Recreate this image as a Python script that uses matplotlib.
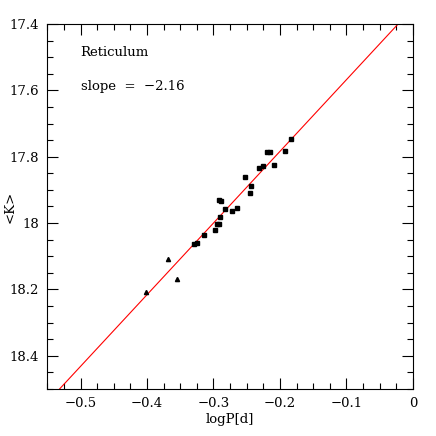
import numpy as np
import matplotlib.pyplot as plt
from matplotlib.ticker import MultipleLocator

# data
logp_sq = [-0.329, -0.325, -0.315, -0.297, -0.294, -0.291, -0.290, -0.292, -0.289,
           -0.282, -0.272, -0.264, -0.252, -0.245, -0.243, -0.232, -0.226, -0.220,
           -0.215, -0.209, -0.192, -0.183]
k_sq = [18.062, 18.059, 18.035, 18.020, 18.002, 18.002, 17.983, 17.930, 17.934,
        17.958, 17.963, 17.954, 17.862, 17.910, 17.887, 17.835, 17.827, 17.786,
        17.785, 17.824, 17.783, 17.746]
logp_tri = [-0.402, -0.368, -0.3545]
k_tri = [18.209, 18.107, 18.169]

slope = -2.16
zp = 17.352

plt.rcParams['font.family'] = 'DejaVu Serif'
plt.rcParams['font.size'] = 9.5

fig = plt.figure(figsize=(4.36, 4.36), dpi=100)
ax = fig.add_axes([0.1085, 0.108, 0.8385, 0.837])

xl = np.array([-0.55, 0.0])
ax.plot(xl, zp + slope * xl, color='red', lw=0.8)
ax.plot(logp_sq, k_sq, 's', color='black', ms=2.8, mec='black')
ax.plot(logp_tri, k_tri, '^', color='black', ms=3.0, mec='black')

ax.set_xlim(-0.55, 0.0)
ax.set_ylim(18.5, 17.4)
ax.xaxis.set_minor_locator(MultipleLocator(0.025))
ax.yaxis.set_minor_locator(MultipleLocator(0.05))
ax.set_xticks([-0.5, -0.4, -0.3, -0.2, -0.1, 0.0])
ax.set_xticklabels(['\u22120.5', '\u22120.4', '\u22120.3', '\u22120.2', '\u22120.1', '0'])
ax.set_yticks([17.4, 17.6, 17.8, 18.0, 18.2, 18.4])
ax.set_yticklabels(['17.4', '17.6', '17.8', '18', '18.2', '18.4'])
ax.tick_params(which='both', direction='in', top=True, right=True)
ax.tick_params(which='major', length=8, width=0.8, pad=6)
ax.tick_params(which='minor', length=4, width=0.8)

ax.set_xlabel('logP[d]', labelpad=2)
ax.set_ylabel('<K>')
ax.yaxis.set_label_coords(-0.085, 0.5)

ax.text(-0.5, 17.486, 'Reticulum', va='center', ha='left')
ax.text(-0.5, 17.587, 'slope  =  \u22122.16', va='center', ha='left')

fig.savefig('out.png', dpi=100)
